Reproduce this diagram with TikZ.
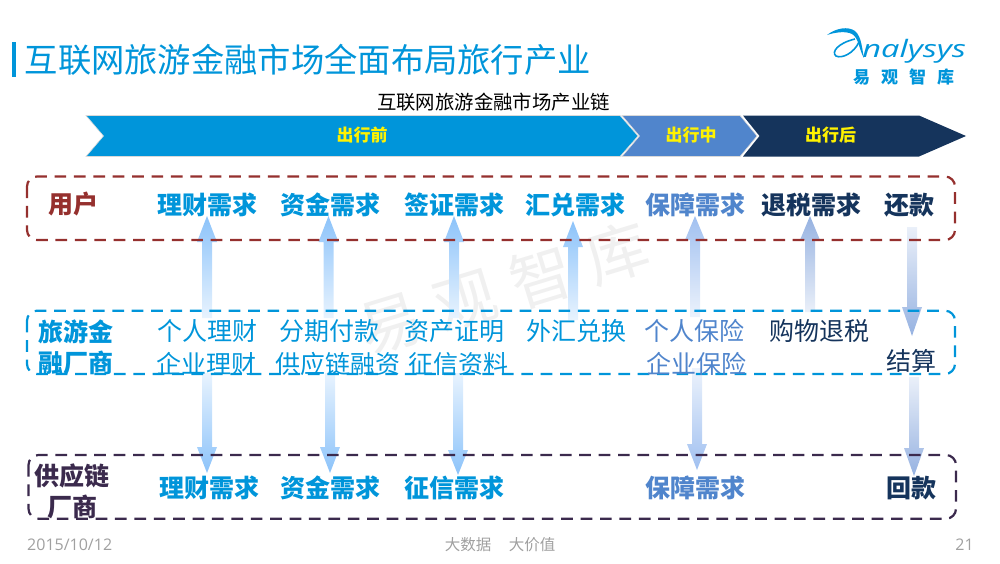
\documentclass[tikz,border=0pt]{standalone}
\usepackage{fontspec}
\setmainfont{Noto Sans CJK SC}
\newfontfamily\latinfont{Open Sans}
\usetikzlibrary{calc}
\definecolor{sky}{RGB}{0,149,218}
\definecolor{midblue}{RGB}{80,133,204}
\definecolor{navy}{RGB}{21,52,92}
\definecolor{brick}{RGB}{149,48,46}
\definecolor{plum}{RGB}{59,42,77}
\definecolor{footgray}{RGB}{160,160,160}
\definecolor{armsky}{RGB}{140,195,250}
\definecolor{armmid}{RGB}{160,192,240}
\definecolor{armnavy}{RGB}{150,178,225}
\tikzset{
	band/.style={draw=white!85!black, line width=0.6pt},
	bandtext/.style={text=yellow, font=\fontsize{17}{19}\selectfont\bfseries},
	box/.style={rounded corners=10pt, line width=2.2pt, dash pattern=on 11.7pt off 7.7pt},
	need/.style={font=\fontsize{25}{28}\selectfont\bfseries, inner sep=0pt},
	item/.style={font=\fontsize{25}{28}\selectfont, inner sep=0pt},
	side/.style={font=\fontsize{25}{31}\selectfont\bfseries, inner sep=0pt, align=center},
	foot/.style={text=footgray, font=\fontsize{15.5}{18}\selectfont, inner sep=0pt},
}
% shaded arrow from coordinate #1 to coordinate #2, with the head starting at height #3
\newcommand{\flowarrow}[4]{
	\path let \p1=(#1), \p2=(#2) in
		[shade, top color=#4!\ifdim\y1<\y2 100\else 20\fi, bottom color=#4!\ifdim\y1<\y2 20\else 100\fi, shading angle=0]
		(\x1-5pt,\y1) -- (\x1-5pt,#3) -- (\x1-10pt,#3) -- (\x2,\y2) -- (\x1+10pt,#3) -- (\x1+5pt,#3) -- (\x1+5pt,\y1) -- cycle;
}
\begin{document}
\begin{tikzpicture}[x=1pt,y=-1pt]
	\useasboundingbox (0,0) rectangle (1000,563);

	\node[rotate=17, text=black!6, font=\fontsize{62}{66}\selectfont] (mark) at (503.5,288) {易\hspace{17pt}观\hspace{17pt}智\hspace{17pt}库};

	% title
	\fill[sky] (12,42) rectangle (15.5,76.5);
	\node[anchor=west, inner sep=0pt, text=sky, font=\fontsize{33.3}{36}\selectfont] (title) at (24.5,60) {互联网旅游金融市场全面布局旅行产业};
	\node[inner sep=0pt, font=\fontsize{19.4}{22}\selectfont] (chain) at (493.5,102) {互联网旅游金融市场产业链};

	% logo
	\fill[sky] (827,35) .. controls (836,28) and (848,26) .. (855,31) .. controls (862,37) and (862,50) .. (864,58) .. controls (859,50) and (859,38) .. (852,34) .. controls (846,31) and (836,32) .. (827,35) -- cycle;
	\draw[sky, line width=1.6pt] (859,42) .. controls (854,53) and (842,59) .. (836,56) .. controls (831,52) and (838,43) .. (855,39);
	\node[anchor=base west, inner sep=0pt, xscale=1.36, text=sky, font=\latinfont\fontsize{24}{26}\selectfont\itshape] (logoname) at (862,57) {nalysys};
	\node[inner sep=0pt, text=sky, font=\fontsize{17}{18}\selectfont\bfseries] (logocn) at (903.5,77) {易\hspace{11pt}观\hspace{11pt}智\hspace{11pt}库};

	% travel phases
	\path[band, fill=sky] (86,115.5) -- (620,115.5) -- (638,136) -- (620,156.5) -- (86,156.5) -- (103.5,136) -- cycle;
	\path[band, fill=midblue] (622,115.5) -- (740,115.5) -- (757,136) -- (740,156.5) -- (622,156.5) -- (639.5,136) -- cycle;
	\path[fill=navy] (743,115.5) -- (919,115.5) -- (966,136) -- (919,156.5) -- (743,156.5) -- (759.5,136) -- cycle;
	\node[bandtext] (before) at (362,135) {出行前};
	\node[bandtext] (during) at (691,135) {出行中};
	\node[bandtext] (after) at (830.5,135) {出行后};

	% arrows
	\coordinate (ua1) at (207,318); \coordinate (ub1) at (207,216);
	\coordinate (ua2) at (328.5,318); \coordinate (ub2) at (328.5,216);
	\coordinate (ua3) at (454,318); \coordinate (ub3) at (454,216);
	\coordinate (ua4) at (573,320); \coordinate (ub4) at (573,221);
	\coordinate (ua5) at (695,317); \coordinate (ub5) at (695,216);
	\coordinate (ua6) at (810,312); \coordinate (ub6) at (810,216);
	\coordinate (ua7) at (912,227); \coordinate (ub7) at (912,336);
	\flowarrow{ua1}{ub1}{242}{armsky}
	\flowarrow{ua2}{ub2}{242}{armsky}
	\flowarrow{ua3}{ub3}{242}{armsky}
	\flowarrow{ua4}{ub4}{247}{armsky}
	\flowarrow{ua5}{ub5}{240}{armmid}
	\flowarrow{ua6}{ub6}{240}{armnavy}
	\flowarrow{ua7}{ub7}{307}{armnavy}

	\coordinate (da1) at (207,373); \coordinate (db1) at (207,473);
	\coordinate (da2) at (330,373); \coordinate (db2) at (330,473);
	\coordinate (da3) at (458,373); \coordinate (db3) at (458,475);
	\coordinate (da4) at (697,368); \coordinate (db4) at (697,470);
	\coordinate (da5) at (914,377); \coordinate (db5) at (914,476);
	\flowarrow{da1}{db1}{447}{armsky}
	\flowarrow{da2}{db2}{447}{armsky}
	\flowarrow{da3}{db3}{450}{armsky}
	\flowarrow{da4}{db4}{444}{armmid}
	\flowarrow{da5}{db5}{448}{armnavy}

	% rows
	\draw[box, brick] (27,176.5) rectangle (955,240);
	\draw[box, sky] (27,310.7) rectangle (955,374);
	\draw[box, plum] (28.5,455) rectangle (956,518.7);

	\node[side, text=brick] (user) at (73,204) {用户};
	\node[need, text=sky] (ua) at (207,205) {理财需求};
	\node[need, text=sky] (ub) at (330,205) {资金需求};
	\node[need, text=sky] (uc) at (454,205) {签证需求};
	\node[need, text=sky] (ud) at (575,205) {汇兑需求};
	\node[need, text=midblue] (ue) at (695,205) {保障需求};
	\node[need, text=navy] (uf) at (811,205) {退税需求};
	\node[need, text=navy] (ug) at (909,205) {还款};

	\node[side, text=sky] (fin) at (76,347.5) {旅游金\\融厂商};
	\node[item, text=sky] (fa) at (207,331) {个人理财};
	\node[item, text=sky] (fb) at (329,331) {分期付款};
	\node[item, text=sky] (fc) at (454,331) {资产证明};
	\node[item, text=sky] (fd) at (576,331) {外汇兑换};
	\node[item, text=midblue] (fe) at (694,331) {个人保险};
	\node[item, text=navy] (ff) at (819,331) {购物退税};
	\node[item, text=sky] (ga) at (206,364) {企业理财};
	\node[item, text=sky] (gb) at (338,364) {供应链融资};
	\node[item, text=sky] (gc) at (458,364) {征信资料};
	\node[item, text=midblue] (ge) at (696,364) {企业保险};
	\node[item, text=navy] (gg) at (911,361) {结算};

	\node[side, text=plum] (sup) at (72,491) {供应链\\厂商};
	\node[need, text=sky] (sa) at (209,488) {理财需求};
	\node[need, text=sky] (sb) at (330,488) {资金需求};
	\node[need, text=sky] (sc) at (454,488) {征信需求};
	\node[need, text=midblue] (se) at (695,488) {保障需求};
	\node[need, text=navy] (sg) at (911,488) {回款};

	% footer
	\node[foot, anchor=west, font=\latinfont\fontsize{16}{18}\selectfont] (date) at (27,545) {2015/10/12};
	\node[foot] (big) at (468,545) {大数据};
	\node[foot] (value) at (532,545) {大价值};
	\node[foot, font=\latinfont\fontsize{16}{18}\selectfont] (page) at (964.5,545) {21};
\end{tikzpicture}
\end{document}
